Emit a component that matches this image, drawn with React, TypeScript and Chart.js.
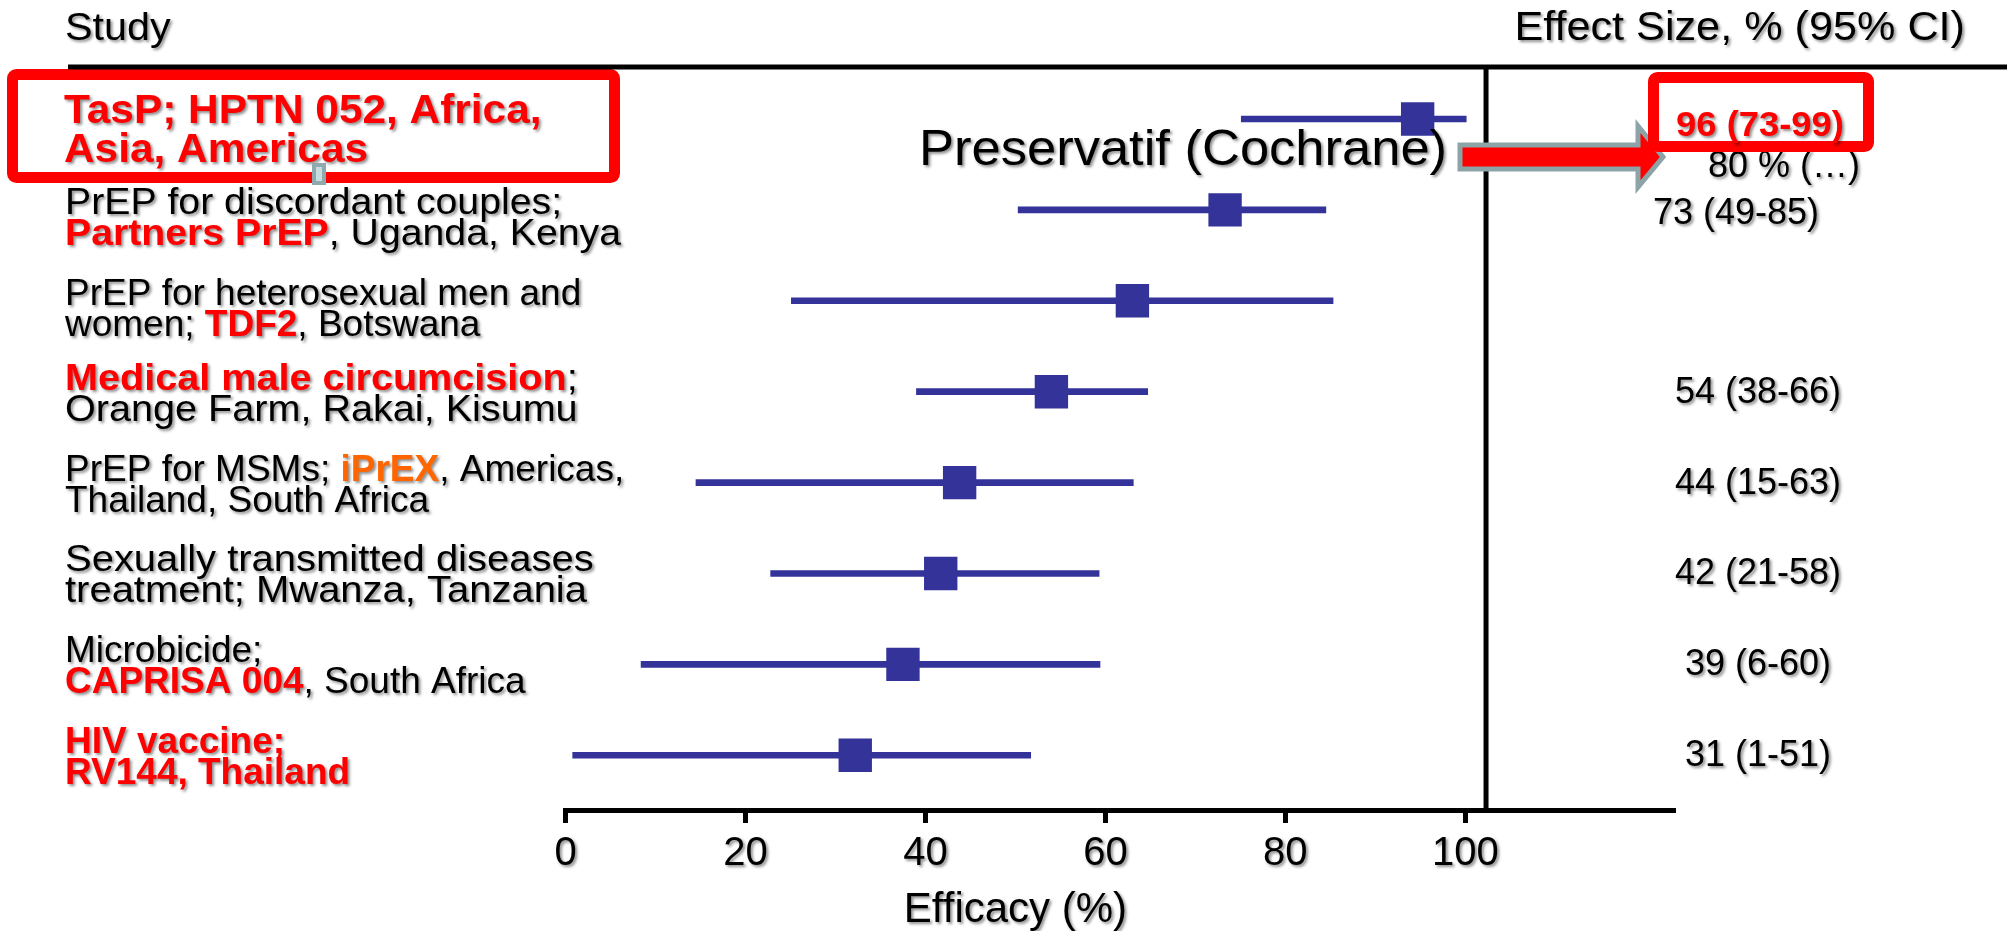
import React, { useEffect, useRef } from "react";
import { Chart, registerables } from "chart.js";

Chart.register(...registerables);

// ---------------- data ----------------
const studies = [
  "TasP; HPTN 052",
  "Partners PrEP",
  "TDF2",
  "Medical male circumcision",
  "iPrEX",
  "STD treatment",
  "CAPRISA 004",
  "RV144",
];
const pointEstimates = [94.7, 73.3, 63.0, 54.0, 43.8, 41.7, 37.5, 32.2];
const ciLower = [75.1, 50.3, 25.1, 39.0, 14.5, 22.8, 8.4, 0.8];
const ciUpper = [100.1, 84.5, 85.3, 64.7, 63.1, 59.3, 59.4, 51.7];
const effectLabels = ["96 (73-99)", "73 (49-85)", "", "54 (38-66)", "44 (15-63)", "42 (21-58)", "39 (6-60)", "31 (1-51)"];
const xTicks = [0, 20, 40, 60, 80, 100];
const condomLabel = "Preservatif (Cochrane)";
const condomEffect = "80 % (…)";

// label text segments: [text, style] where style r = red bold, o = orange bold, none = black
type Seg = [string, string?];
const labelLines: Seg[][][] = [
  [[["TasP; HPTN 052, Africa,", "r"]], [["Asia, Americas", "r"]]],
  [[["PrEP for discordant couples;"]], [["Partners PrEP", "r"], [", Uganda, Kenya"]]],
  [[["PrEP for heterosexual men and"]], [["women; "], ["TDF2", "r"], [", Botswana"]]],
  [[["Medical male circumcision", "r"], [";"]], [["Orange Farm, Rakai, Kisumu"]]],
  [[["PrEP for MSMs; "], ["iPrEX", "o"], [", Americas,"]], [["Thailand, South Africa"]]],
  [[["Sexually transmitted diseases"]], [["treatment; Mwanza, Tanzania"]]],
  [[["Microbicide;"]], [["CAPRISA 004", "r"], [", South Africa"]]],
  [[["HIV vaccine;", "r"]], [["RV144, Thailand", "r"]]],
];

// ---------------- styling ----------------
const FONT = '"Liberation Sans", Arial, Helvetica, sans-serif';
const NAVY = "#333399";
const RED = "#FF0000";
const ORANGE = "#FF6600";
const SHADOW = "rgba(0,0,0,0.45)";
const DIVIDER_VALUE = 102.3;
const effectDx = [2, -22, 0, 0, 0, 0, 0, 0];
const effectDy = [17, 14, 11, 11, 11, 11, 11, 11];
const labelDy = [0, 6, 6, 0, 0, 0, 0, 0];
const labelSx = [1.06, 1.06, 1.0, 1.07, 1.0, 1.08, 1.0, 1.0];

function setShadow(ctx: CanvasRenderingContext2D) {
  ctx.shadowColor = SHADOW;
  ctx.shadowBlur = 3;
  ctx.shadowOffsetX = 2;
  ctx.shadowOffsetY = 2;
}

function drawText(
  ctx: CanvasRenderingContext2D,
  str: string,
  x: number,
  y: number,
  o: { size: number; bold?: boolean; color?: string; align?: string; sx?: number }
) {
  const sx = o.sx ?? 1;
  ctx.save();
  ctx.font = `${o.bold ? "bold " : ""}${o.size}px ${FONT}`;
  const w = ctx.measureText(str).width * sx;
  const x0 = o.align === "center" ? x - w / 2 : o.align === "right" ? x - w : x;
  setShadow(ctx);
  ctx.fillStyle = o.color ?? "#000";
  ctx.textBaseline = "alphabetic";
  ctx.textAlign = "left";
  ctx.translate(x0, y);
  ctx.scale(sx, 1);
  ctx.fillText(str, 0, 0);
  ctx.restore();
  return w;
}

function drawRich(ctx: CanvasRenderingContext2D, segs: Seg[], x: number, y: number, size: number, sx: number) {
  let cx = x;
  for (const [t, st] of segs) {
    const bold = st === "r" || st === "o";
    const color = st === "r" ? RED : st === "o" ? ORANGE : "#000";
    cx += drawText(ctx, t, cx, y, { size, bold, color, sx });
  }
}

const annotationPlugin = {
  id: "forestAnnotations",
  afterDatasetsDraw(chart: any) {
    // shadow for the tick labels layer drawn after datasets
    chart.ctx.save();
    setShadow(chart.ctx);
  },
  afterDraw(chart: any) {
    const ctx: CanvasRenderingContext2D = chart.ctx;
    ctx.restore();
    const xs = chart.scales.x;
    const ys = chart.scales.y;
    const area = chart.chartArea;
    const rowY = (i: number) => ys.getPixelForValue(i);

    // left highlight box (row 1 label)
    ctx.save();
    ctx.strokeStyle = RED;
    ctx.lineWidth = 11;
    ctx.beginPath();
    (ctx as any).roundRect(12.5, 74.5, 602, 103, 4);
    ctx.stroke();
    ctx.restore();

    // top rule and divider
    ctx.save();
    ctx.fillStyle = "#000";
    ctx.fillRect(68, area.top - 2.5, chart.width - 68, 5);
    const dx = xs.getPixelForValue(DIVIDER_VALUE);
    ctx.fillRect(dx - 2.5, area.top, 5, area.bottom - area.top);
    ctx.restore();

    // headers
    drawText(ctx, "Study", 65, 40, { size: 39, sx: 1.06 });
    drawText(ctx, "Effect Size, % (95% CI)", 1965, 40, { size: 40, sx: 1.08, align: "right" });

    // study labels
    labelLines.forEach((lines, i) => {
      const y = rowY(i) + labelDy[i];
      if (i === 0) {
        drawRich(ctx, lines[0], 64, y + 4, 40, 1.06);
        drawRich(ctx, lines[1], 64, y + 43, 40, 1.06);
      } else {
        drawRich(ctx, lines[0], 65, y - 2, 37, labelSx[i]);
        drawRich(ctx, lines[1], 65, y + 29, 37, labelSx[i]);
      }
    });

    // x-axis title, centred on the 0-100 range
    drawText(ctx, "Efficacy (%)", xs.getPixelForValue(50), 922, { size: 42, align: "center" });

    // effect size column
    const ex = area.right + 83;
    effectLabels.forEach((t, i) => {
      if (!t || i === 0) return;
      drawText(ctx, t, ex + effectDx[i], rowY(i) + effectDy[i], { size: 36, align: "center" });
    });
    drawText(ctx, condomEffect, ex + 26, 177, { size: 36, align: "center" });

    // condom annotation
    drawText(ctx, condomLabel, 919, 165, { size: 50, sx: 1.05 });

    // arrow
    ctx.save();
    ctx.beginPath();
    ctx.moveTo(1460, 145);
    ctx.lineTo(1638, 145);
    ctx.lineTo(1638, 126);
    ctx.lineTo(1663, 157);
    ctx.lineTo(1638, 187);
    ctx.lineTo(1638, 169);
    ctx.lineTo(1460, 169);
    ctx.closePath();
    ctx.fillStyle = RED;
    ctx.fill();
    ctx.lineWidth = 5;
    ctx.lineJoin = "miter";
    ctx.strokeStyle = "#8CA4A7";
    ctx.stroke();
    ctx.restore();

    // right highlight box
    ctx.save();
    ctx.beginPath();
    (ctx as any).roundRect(1653.5, 77.5, 215, 69, 4);
    ctx.fillStyle = "#fff";
    ctx.fill();
    ctx.strokeStyle = RED;
    ctx.lineWidth = 11;
    ctx.stroke();
    ctx.restore();
    drawText(ctx, effectLabels[0], ex + effectDx[0], rowY(0) + effectDy[0], { size: 35, bold: true, color: RED, align: "center", sx: 1.04 });

    // small text-box handle
    ctx.save();
    ctx.fillStyle = "#8FA9AC";
    ctx.fillRect(312, 163, 14, 22);
    ctx.fillStyle = "#C8DDE0";
    ctx.fillRect(316, 167, 6, 14);
    ctx.restore();
  },
};

export default function App() {
  const ref = useRef<HTMLCanvasElement>(null);
  useEffect(() => {
    const canvas = ref.current as HTMLCanvasElement;
    const chart = new Chart(canvas, {
      type: "bar",
      data: {
        labels: studies,
        datasets: [
          {
            type: "scatter",
            label: "Effect size",
            data: pointEstimates.map((v, i) => ({ x: v, y: i })),
            pointStyle: "rect",
            pointRadius: 23.6,
            pointHoverRadius: 23.6,
            backgroundColor: NAVY,
            borderWidth: 0,
            order: 0,
          } as any,
          {
            type: "bar",
            label: "95% CI",
            indexAxis: "y",
            data: ciLower.map((lo, i) => ({ x: [lo, ciUpper[i]], y: i })),
            backgroundColor: NAVY,
            borderWidth: 0,
            barThickness: 6,
            borderSkipped: false,
            order: 1,
          } as any,
        ],
      },
      options: {
        responsive: false,
        devicePixelRatio: 1,
        animation: false,
        layout: { padding: { left: 565.5, right: 332, top: 67, bottom: 0 } },
        plugins: { legend: { display: false }, tooltip: { enabled: false } },
        scales: {
          x: {
            type: "linear",
            position: "bottom",
            min: 0,
            max: 123.3,
            offset: false,
            afterBuildTicks: (axis: any) => {
              axis.ticks = xTicks.map((v) => ({ value: v }));
            },
            afterFit: (axis: any) => {
              axis.height = 121;
            },
            grid: {
              display: true,
              offset: false,
              drawOnChartArea: false,
              drawTicks: true,
              tickLength: 13,
              tickWidth: 5,
              tickColor: "#000",
              color: "#000",
            },
            border: { display: true, color: "#000", width: 5 },
            ticks: {
              color: "#000",
              font: { family: FONT, size: 40 },
              padding: 7,
              maxRotation: 0,
              autoSkip: false,
              z: 1,
            },
          },
          y: {
            type: "linear",
            min: -0.572,
            max: 7.602,
            reverse: true,
            offset: false,
            grid: { offset: false },
            display: false,
          },
        },
      } as any,
      plugins: [annotationPlugin],
    });
    return () => chart.destroy();
  }, []);
  return (
    <div style={{ position: "absolute", left: 0, top: 0, width: 2007, height: 931, background: "#fff" }}>
      <canvas ref={ref} width={2007} height={931} style={{ display: "block", width: 2007, height: 931 }} />
    </div>
  );
}
